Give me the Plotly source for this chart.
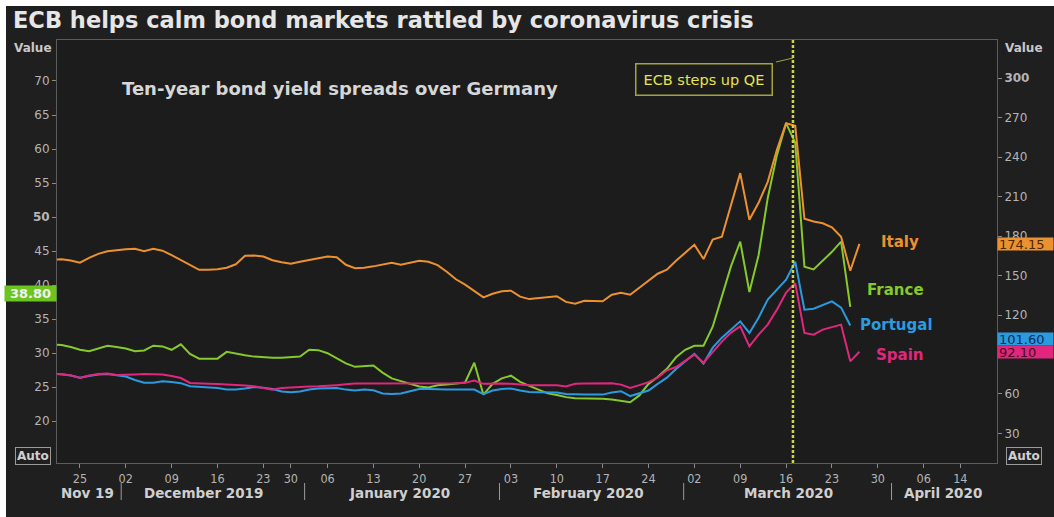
import pandas as pd
import plotly.graph_objects as go

# ---------------- data ----------------
holidays = ["2019-12-25", "2019-12-26", "2020-01-01"]
future_breaks = ["2020-04-10", "2020-04-13"]
dates = pd.bdate_range("2019-11-20", "2020-03-26", freq="C", holidays=holidays)

# Italy spread over Germany (bp, right axis)
italy = [162.2, 162.4, 161.5, 159.8, 163.5, 166.5, 168.5, 169.4, 170.0, 170.4,
         168.5, 170.4, 168.9, 165.5, 162.0, 158.2, 154.4, 154.4, 154.8, 156.0,
         158.6, 165.0, 165.3, 164.5, 161.7, 160.1, 159.0, 160.5, 162.0, 163.5,
         164.5, 163.9, 158.2, 155.6, 156.0, 157.0, 158.6, 159.8, 158.2, 159.8,
         161.3, 160.5, 157.9, 152.9, 147.2, 143.1, 138.5, 133.4, 136.2, 138.1,
         138.5, 134.0, 132.1, 132.8, 133.6, 134.3, 130.0, 128.6, 130.9, 130.9,
         130.4, 135.4, 136.9, 135.4, 140.7, 146.1, 151.4, 154.4, 161.3, 167.3,
         173.4, 162.6, 177.3, 179.5, 203.8, 227.9, 192.4, 205.3, 221.3, 245.6,
         265.8, 263.8, 193.2, 191.1, 189.8, 186.7, 179.5, 153.7, 174.15]

# France spread over Germany (bp, left axis)
france = [31.3, 31.2, 30.9, 30.5, 30.3, 30.7, 31.1, 30.9, 30.7, 30.3,
          30.4, 31.1, 31.0, 30.5, 31.3, 29.9, 29.2, 29.2, 29.2, 30.2,
          29.9, 29.7, 29.5, 29.4, 29.35, 29.35, 29.4, 29.5, 30.5, 30.45,
          30.0, 29.3, 28.5, 28.0, 28.1, 28.2, 27.15, 26.3, 25.9, 25.5,
          25.1, 24.95, 25.3, 25.4, 25.5, 25.7, 28.6, 23.9, 25.5, 26.3,
          26.7, 25.8, 25.2, 24.65, 24.1, 23.85, 23.55, 23.4, 23.4, 23.3,
          23.3, 23.2, 23.0, 22.8, 23.8, 25.5, 26.5, 27.7, 29.4, 30.5,
          31.1, 31.1, 33.9, 38.4, 42.8, 46.4, 39.0, 44.4, 52.8, 59.1,
          63.8, 60.9, 42.7, 42.3, 43.6, 44.9, 46.4, 36.8]

# Portugal spread over Germany (bp, right axis)
portugal = [75.3, 75.0, 74.0, 72.4, 73.6, 74.8, 75.1, 74.4, 73.3, 70.6,
            68.6, 68.6, 69.6, 69.0, 68.2, 65.8, 65.2, 65.1, 64.5, 63.3,
            63.3, 64.1, 65.2, 64.8, 63.7, 61.8, 61.3, 61.8, 63.3, 64.1,
            64.6, 64.6, 63.3, 62.6, 63.3, 62.8, 60.3, 59.9, 60.3, 61.8,
            63.7, 63.7, 63.3, 63.3, 63.3, 63.3, 63.3, 59.9, 62.6, 63.7,
            64.1, 62.6, 61.4, 61.3, 61.3, 61.1, 59.9, 59.5, 59.5, 59.5,
            59.5, 61.1, 62.1, 58.4, 60.7, 62.6, 67.7, 72.4, 79.0, 85.0,
            90.5, 83.1, 95.2, 102.8, 108.9, 115.2, 106.4, 118.0, 131.7, 139.3,
            146.8, 160.5, 124.1, 124.8, 127.9, 130.4, 125.6, 112.0]

# Spain spread over Germany (bp, right axis)
spain = [75.5, 75.1, 74.2, 72.2, 74.0, 75.1, 75.5, 74.4, 74.4, 74.8,
         75.1, 75.1, 74.8, 73.6, 72.1, 68.4, 67.9, 67.7, 67.5, 67.3,
         67.1, 66.4, 65.8, 64.5, 63.3, 64.5, 65.0, 65.4, 65.6, 65.8,
         66.1, 66.7, 67.3, 67.9, 67.9, 67.9, 67.9, 67.9, 67.7, 67.7,
         67.7, 67.7, 67.9, 67.9, 68.2, 68.6, 70.2, 67.7, 67.9, 67.9,
         67.7, 67.1, 66.6, 66.6, 66.6, 66.6, 65.6, 67.7, 67.9, 68.1,
         68.4, 68.1, 67.1, 64.6, 66.7, 69.0, 72.4, 78.0, 80.5, 85.0,
         89.9, 83.8, 92.2, 99.8, 106.6, 111.4, 96.2, 105.1, 112.7, 124.1,
         137.0, 144.3, 106.4, 105.1, 108.9, 110.8, 112.7, 84.8, 92.1]

series_names = ["Italy", "France", "Portugal", "Spain"]
last_labels = {"Italy": 174.15, "France": 38.80, "Portugal": 101.60, "Spain": 92.10}

tick_dates = ["2019-11-25", "2019-12-02", "2019-12-09", "2019-12-16", "2019-12-23",
              "2019-12-30", "2020-01-06", "2020-01-13", "2020-01-20", "2020-01-27",
              "2020-02-03", "2020-02-10", "2020-02-17", "2020-02-24", "2020-03-02",
              "2020-03-09", "2020-03-16", "2020-03-23", "2020-03-30", "2020-04-06",
              "2020-04-14"]
tick_labels = ["25", "02", "09", "16", "23", "30", "06", "13", "20", "27",
               "03", "10", "17", "24", "02", "09", "16", "23", "30", "06", "14"]

left_ticks = [20, 25, 30, 35, 40, 45, 50, 55, 60, 65, 70]
right_ticks = [30, 60, 90, 120, 150, 180, 210, 240, 270, 300]
right_hidden = [90]  # covered by the value boxes in the original

month_labels = ["Nov 19", "December 2019", "January 2020", "February 2020",
                "March 2020", "April 2020"]
month_label_pos = ["2019-11-25 21:00", "2019-12-12 12:00", "2020-01-15 20:00",
                   "2020-02-13 12:00", "2020-03-16 06:00", "2020-04-08 02:00"]
month_seps = ["2019-11-29 12:00", "2019-12-31 12:00", "2020-01-30 18:00",
              "2020-02-27 20:00", "2020-03-31 12:00"]
qe_date = "2020-03-16 18:00"
qe_text = "ECB steps up QE"

# ---------------- style ----------------
PAPER = "#1f1f1f"
PLOT = "#1c1c1c"
GRAY = "#b4b4b4"
LINE = "#5c5c5c"
COL = {"Italy": "#ec9130", "France": "#86c92c", "Portugal": "#2b9be0", "Spain": "#e0277d"}
BOLD = "DejaVu Sans"
NARROW = "Liberation Sans Narrow, DejaVu Sans Condensed, Liberation Sans, sans-serif"

L, R, T, B = 57, 57, 40, 54
W, H = 1054, 517
PW, PH = W - L - R, H - T - B


def px(xp):
    return (xp - L) / PW


def py(yp):
    return (H - B - yp) / PH


fig = go.Figure()
data_map = {"Italy": italy, "France": france, "Portugal": portugal, "Spain": spain}
for name in ["France", "Portugal", "Spain", "Italy"]:
    vals = data_map[name]
    fig.add_trace(go.Scatter(
        x=dates[:len(vals)], y=vals, mode="lines", name=name,
        line=dict(color=COL[name], width=2),
        yaxis="y" if name == "France" else "y2",
        hoverinfo="x+y+name",
    ))

annotations = []
# Title
annotations.append(dict(text="ECB helps calm bond markets rattled by coronavirus crisis",
                        xref="paper", yref="paper", x=px(11), y=py(20),
                        xanchor="left", yanchor="middle", showarrow=False,
                        font=dict(family=BOLD, size=22.5, color="#e6e6e6", weight="bold")))
annotations.append(dict(text="Ten-year bond yield spreads over Germany",
                        xref="paper", yref="paper", x=px(340), y=py(88),
                        xanchor="center", yanchor="middle", showarrow=False,
                        font=dict(family=BOLD, size=18, color="#d6d6d6", weight="bold")))
for xx in (33, 1024):
    annotations.append(dict(text="Value", xref="paper", yref="paper", x=px(xx), y=py(48),
                            xanchor="center", yanchor="middle", showarrow=False,
                            font=dict(family=BOLD, size=12, color="#c8c8c8", weight="bold")))
    annotations.append(dict(text="Auto", xref="paper", yref="paper", x=px(xx), y=py(456),
                            xanchor="center", yanchor="middle", showarrow=False,
                            bordercolor="#9a9a9a", borderwidth=1, borderpad=1,
                            font=dict(family=BOLD, size=12, color="#d0d0d0", weight="bold")))

# series name labels
name_pos = {"Italy": (900, 242), "France": (895, 290), "Portugal": (896, 325), "Spain": (899, 355)}
for name in series_names:
    xx, yy = name_pos[name]
    annotations.append(dict(text=name, xref="paper", yref="paper", x=px(xx), y=py(yy),
                            xanchor="center", yanchor="middle", showarrow=False,
                            font=dict(family=BOLD, size=15, color=COL[name], weight="bold")))

# last value boxes
dark_txt = {"Italy": "#4a2800", "Portugal": "#0b2a55", "Spain": "#4a0a22"}
for name in ["Italy", "Portugal", "Spain"]:
    annotations.append(dict(text=f"{last_labels[name]:.2f}", xref="paper", yref="y2",
                            x=1.0, y=last_labels[name], xanchor="left", yanchor="middle",
                            showarrow=False, bgcolor=COL[name], width=53, height=10,
                            align="left", borderpad=1,
                            font=dict(family="DejaVu Sans", size=13, color=dark_txt[name])))
annotations.append(dict(text=f"{last_labels['France']:.2f}", xref="paper", yref="y",
                        x=0.0, y=last_labels["France"], xanchor="right", yanchor="middle",
                        showarrow=False, bgcolor="#6cc51e", width=49, height=13,
                        align="center", borderpad=1,
                        font=dict(family=BOLD, size=13, color="#f2f2f2", weight="bold")))

# ECB box
annotations.append(dict(text=qe_text, xref="paper", yref="paper", x=px(704), y=py(79),
                        xanchor="center", yanchor="middle", showarrow=False,
                        bordercolor="#a4a43c", borderwidth=1.5, borderpad=7, bgcolor=PLOT,
                        font=dict(family="DejaVu Sans", size=14.5, color="#e4e44e")))

# month labels
for lab, pos in zip(month_labels, month_label_pos):
    annotations.append(dict(text=lab, xref="x", yref="paper", x=pos, y=py(493),
                            xanchor="center", yanchor="middle", showarrow=False,
                            font=dict(family=BOLD, size=13.5, color="#cfcfcf", weight="bold")))

shapes = []
# white border top & left
shapes.append(dict(type="rect", xref="paper", yref="paper", x0=px(0), x1=px(W),
                   y0=py(6), y1=py(0), fillcolor="#ffffff", line=dict(width=0), layer="above"))
shapes.append(dict(type="rect", xref="paper", yref="paper", x0=px(0), x1=px(6),
                   y0=py(H), y1=py(0), fillcolor="#ffffff", line=dict(width=0), layer="above"))
# month separators
for s in month_seps:
    shapes.append(dict(type="line", xref="x", yref="paper", x0=s, x1=s,
                       y0=py(483), y1=py(500), line=dict(color="#9a9a9a", width=1)))
# QE vertical dashed line
shapes.append(dict(type="line", xref="x", yref="paper", x0=qe_date, x1=qe_date,
                   y0=0, y1=1, line=dict(color="#cdd63c", width=2.5, dash="3px,2px")))
# connector from box to line
shapes.append(dict(type="line", xref="paper", yref="paper", x0=px(776), x1=px(793),
                   y0=py(62), y1=py(58), line=dict(color="#a4a43c", width=1)))

fig.update_layout(
    width=W, height=H,
    margin=dict(l=L, r=R, t=T, b=B, pad=0),
    paper_bgcolor=PAPER, plot_bgcolor=PLOT,
    showlegend=False,
    annotations=annotations, shapes=shapes,
    xaxis=dict(
        type="date",
        range=["2019-11-20 12:00", "2020-04-17 23:59"],
        rangebreaks=[dict(bounds=["sat", "mon"]), dict(values=holidays + future_breaks)],
        tickmode="array", tickvals=tick_dates, ticktext=tick_labels,
        ticks="outside", ticklen=4, tickcolor="#8a8a8a", tickwidth=1,
        showline=True, mirror=True, linecolor=LINE, linewidth=1,
        showgrid=False, zeroline=False,
        tickfont=dict(family=NARROW, size=12.5, color=GRAY),
    ),
    yaxis=dict(
        range=[13.87, 76.02],
        tickmode="array", tickvals=left_ticks,
        ticktext=[f"<b>{v}</b>" if v == 50 else str(v) for v in left_ticks],
        ticks="outside", ticklen=4, tickcolor="#8a8a8a",
        showline=True, linecolor=LINE, linewidth=1,
        showgrid=False, zeroline=False,
        tickfont=dict(family="DejaVu Sans", size=12, color=GRAY),
    ),
    yaxis2=dict(
        overlaying="y", side="right",
        range=[7.5, 329.1],
        tickmode="array", tickvals=right_ticks,
        ticktext=["" if v in right_hidden else (f"<b>{v}</b>" if v == 300 else str(v))
                  for v in right_ticks],
        ticks="outside", ticklen=4, tickcolor="#8a8a8a",
        showline=True, linecolor=LINE, linewidth=1,
        showgrid=False, zeroline=False,
        tickfont=dict(family="DejaVu Sans", size=12, color=GRAY),
    ),
)

fig.write_html("out.html", config={"displayModeBar": False},
               post_script="document.body.style.margin='0px';")
